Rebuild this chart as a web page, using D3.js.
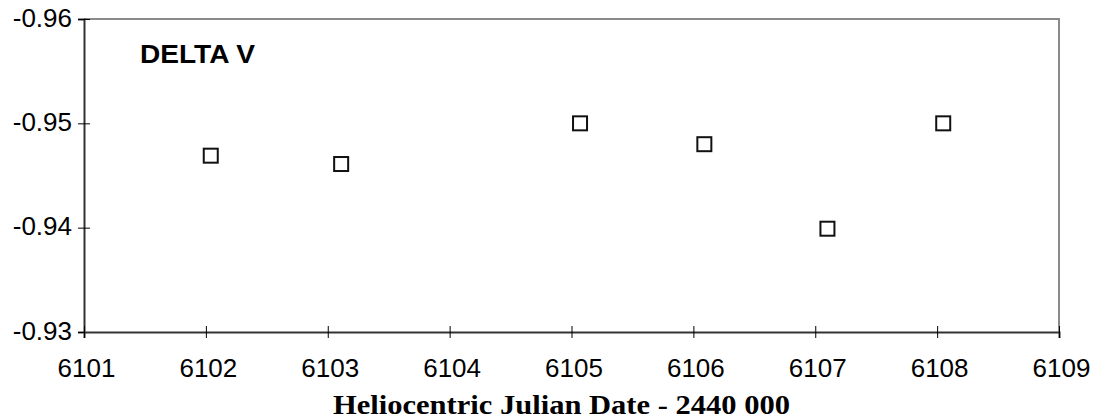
<!DOCTYPE html>
<html>
<head>
<meta charset="utf-8">
<script src="https://cdn.jsdelivr.net/npm/d3@7"></script>
<style>
  body { margin: 0; background: #fff; }
  svg { display: block; }
  .tick text { font-family: "Liberation Sans", Arial, sans-serif; font-size: 26px; fill: #000; }
</style>
</head>
<body>
<svg id="chart" width="1099" height="419"></svg>
<script>
// data
const hjd = [6102.04, 6103.11, 6105.07, 6106.09, 6107.10, 6108.05];
const deltaV = [-0.9469, -0.9461, -0.9500, -0.9480, -0.9399, -0.9500];
const xTicks = [6101, 6102, 6103, 6104, 6105, 6106, 6107, 6108, 6109];
const yTicks = [-0.96, -0.95, -0.94, -0.93];
const seriesLabel = "DELTA V";
const xTitle = "Heliocentric Julian Date - 2440 000";

const m = {top: 19, right: 40, bottom: 87, left: 84};
const W = 1099, H = 419;

const svg = d3.select("#chart");
const x = d3.scaleLinear().domain([6101, 6109]).range([m.left, W - m.right]);
// axis runs downward: -0.96 at the top
const y = d3.scaleLinear().domain([-0.96, -0.93]).range([m.top, H - m.bottom]);

// plot border (grey top/right)
svg.append("path")
    .attr("d", `M${x(6101)},${y(-0.96)}H${x(6109)}V${y(-0.93)}`)
    .attr("fill", "none")
    .attr("stroke", "#8a8a8a")
    .attr("stroke-width", 2);

const yAxis = svg.append("g")
    .attr("transform", `translate(${m.left},0)`)
    .call(d3.axisLeft(y).tickValues(yTicks).tickSize(6).tickPadding(6)
        .tickFormat(d => d3.format(".2f")(d).replace("−", "-")));
yAxis.select(".domain").attr("stroke", "#333").attr("stroke-width", 2);
yAxis.selectAll(".tick line").clone().attr("x2", 6);
yAxis.selectAll(".tick text").attr("dy", "0.28em");

const xAxis = svg.append("g")
    .attr("transform", `translate(0,${y(-0.93)})`)
    .call(d3.axisBottom(x).tickValues(xTicks).tickSize(6).tickPadding(21)
        .tickFormat(d3.format("d")));
xAxis.select(".domain").attr("stroke", "#333").attr("stroke-width", 2);
xAxis.selectAll(".tick line").clone().attr("y2", -6);
xAxis.selectAll(".tick text").attr("dy", "0.71em").attr("dx", 2);

// markers
svg.append("g").selectAll("rect")
    .data(hjd.map((d, i) => ({t: d, v: deltaV[i]})))
    .join("rect")
    .attr("x", d => x(d.t) - 7)
    .attr("y", d => y(d.v) - 7)
    .attr("width", 14)
    .attr("height", 14)
    .attr("fill", "#fff")
    .attr("stroke", "#111")
    .attr("stroke-width", 2);

svg.append("text")
    .attr("x", 140)
    .attr("y", 63)
    .attr("font-family", "Liberation Sans, Arial, sans-serif")
    .attr("font-weight", "bold")
    .attr("font-size", 25)
    .attr("textLength", 115)
    .attr("lengthAdjust", "spacingAndGlyphs")
    .text(seriesLabel);

svg.append("text")
    .attr("x", 333)
    .attr("y", 414)
    .attr("font-family", "Liberation Serif, Times New Roman, serif")
    .attr("font-weight", "bold")
    .attr("font-size", 27)
    .attr("textLength", 457)
    .attr("lengthAdjust", "spacingAndGlyphs")
    .text(xTitle);
</script>
</body>
</html>
